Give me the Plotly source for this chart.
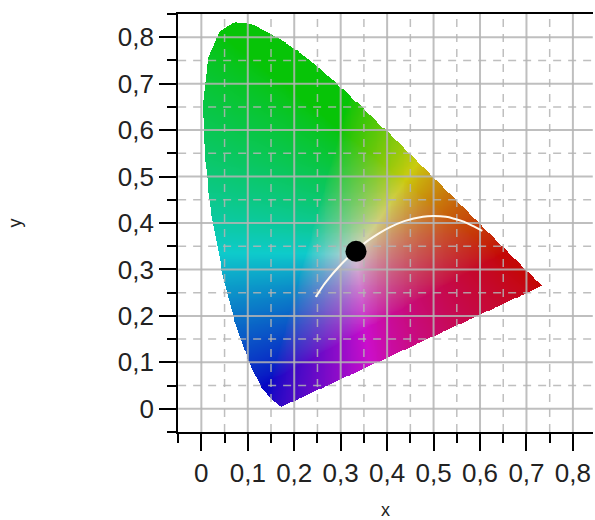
import numpy as np
import plotly.graph_objects as go

# ---------------- data ----------------
# CIE 1931 spectral locus (chromaticity x, y), 380..700 nm
LOCUS_X = [0.1741, 0.1740, 0.1738, 0.1736, 0.1733, 0.1730, 0.1726, 0.1721, 0.1714, 0.1703,
           0.1689, 0.1669, 0.1644, 0.1611, 0.1566, 0.1510, 0.1440, 0.1355, 0.1241, 0.1096,
           0.0913, 0.0687, 0.0454, 0.0235, 0.0082, 0.0039, 0.0139, 0.0389, 0.0743, 0.1142,
           0.1547, 0.1929, 0.2296, 0.2658, 0.3016, 0.3373, 0.3731, 0.4087, 0.4441, 0.4788,
           0.5125, 0.5448, 0.5752, 0.6029, 0.6270, 0.6482, 0.6658, 0.6801, 0.6915, 0.7006,
           0.7079, 0.7140, 0.7190, 0.7230, 0.7260, 0.7283, 0.7300, 0.7311, 0.7320, 0.7327,
           0.7334, 0.7347]
LOCUS_Y = [0.0050, 0.0050, 0.0049, 0.0049, 0.0048, 0.0048, 0.0048, 0.0048, 0.0051, 0.0058,
           0.0069, 0.0086, 0.0109, 0.0138, 0.0177, 0.0227, 0.0297, 0.0399, 0.0578, 0.0868,
           0.1327, 0.2007, 0.2950, 0.4127, 0.5384, 0.6548, 0.7502, 0.8120, 0.8338, 0.8262,
           0.8059, 0.7816, 0.7543, 0.7243, 0.6923, 0.6589, 0.6245, 0.5896, 0.5547, 0.5202,
           0.4866, 0.4544, 0.4242, 0.3965, 0.3725, 0.3514, 0.3340, 0.3197, 0.3083, 0.2993,
           0.2920, 0.2859, 0.2809, 0.2770, 0.2740, 0.2717, 0.2700, 0.2689, 0.2680, 0.2673,
           0.2666, 0.2653]

# Planckian (black body) locus, as drawn (white curve)
PLANCK_X = [0.246, 0.2501, 0.2565, 0.2637, 0.2720, 0.2807, 0.2869, 0.2952, 0.3064, 0.3135,
            0.3221, 0.3325, 0.3451, 0.3608, 0.3805, 0.4053, 0.4369, 0.4770, 0.5000, 0.5267,
            0.5450, 0.5650, 0.5857, 0.6050]
PLANCK_Y = [0.241, 0.2466, 0.2563, 0.2671, 0.2778, 0.2884, 0.2956, 0.3048, 0.3166, 0.3237,
            0.3318, 0.3411, 0.3516, 0.3636, 0.3768, 0.3907, 0.4041, 0.4137, 0.4150, 0.4133,
            0.4090, 0.4029, 0.3931, 0.3830]

# white point marker
POINT_X = [0.333]
POINT_Y = [0.339]

X_TICKS = [0, 0.1, 0.2, 0.3, 0.4, 0.5, 0.6, 0.7, 0.8]
X_LABELS = ["0", "0,1", "0,2", "0,3", "0,4", "0,5", "0,6", "0,7", "0,8"]
Y_TICKS = [0, 0.1, 0.2, 0.3, 0.4, 0.5, 0.6, 0.7, 0.8]
Y_LABELS = ["0", "0,1", "0,2", "0,3", "0,4", "0,5", "0,6", "0,7", "0,8"]
MINOR_STEP = 0.05

XR = [-0.05, 0.843]
YR = [-0.05, 0.85]

# ---------------- colour image of the gamut ----------------
STEP = 0.002
gx = np.arange(0.001, 0.745, STEP)
gy = np.arange(0.001, 0.845, STEP)
PX, PY = np.meshgrid(gx, gy)

vx = np.array(LOCUS_X)
vy = np.array(LOCUS_Y)
inside = np.zeros(PX.shape, dtype=bool)
j = len(vx) - 1
for i in range(len(vx)):
    cond = ((vy[i] > PY) != (vy[j] > PY)) & (
        PX < (vx[j] - vx[i]) * (PY - vy[i]) / (vy[j] - vy[i] + 1e-12) + vx[i])
    inside ^= cond
    j = i

X = PX / PY
Yc = np.ones_like(PX)
Z = (1 - PX - PY) / PY
# sRGB primaries, balanced to equal-energy white
R = (3.2406 * X - 1.5372 * Yc - 0.4986 * Z) / 1.2048
G = (-0.9689 * X + 1.8758 * Yc + 0.0415 * Z) / 0.9484
B = (0.0557 * X - 0.2040 * Yc + 1.0570 * Z) / 0.9087
rgb = np.clip(np.stack([R, G, B], axis=-1), 0, None)
mx = rgb.max(axis=-1, keepdims=True)
mx[mx == 0] = 1
rgb = rgb / mx
rgb = rgb ** 0.7
rgb = 0.9 * rgb + 0.1 * rgb.mean(axis=-1, keepdims=True)
rgb = np.round(np.clip(rgb, 0, 1) * 210).astype(int)
alpha = inside.astype(int)[..., None] * 255
img = np.concatenate([rgb, alpha], axis=-1)
img[~inside] = [255, 255, 255, 0]

# ---------------- grid drawn over the colour image ----------------
def grid_xy(vals, vertical):
    xs, ys = [], []
    for v in vals:
        if vertical:
            xs += [v, v, None]
            ys += [YR[0], YR[1], None]
        else:
            xs += [XR[0], XR[1], None]
            ys += [v, v, None]
    return xs, ys

x_minor = [t + MINOR_STEP for t in X_TICKS if XR[0] < t + MINOR_STEP < XR[1]]
y_minor = [t + MINOR_STEP for t in Y_TICKS if YR[0] < t + MINOR_STEP < YR[1] - 0.01]

mx_x, mx_y = grid_xy(X_TICKS, True)
my_x, my_y = grid_xy(Y_TICKS, False)
nx_x, nx_y = grid_xy(x_minor, True)
ny_x, ny_y = grid_xy(y_minor, False)

GRID = "rgba(180,180,180,0.85)"

fig = go.Figure()
fig.add_trace(go.Image(z=img.tolist(), colormodel="rgba256", x0=float(gx[0]), dx=STEP,
                       y0=float(gy[0]), dy=STEP, hoverinfo="skip"))
fig.add_trace(go.Scatter(x=nx_x + [None] + ny_x, y=nx_y + [None] + ny_y, mode="lines",
                         line=dict(color=GRID, width=1.5, dash="8px,7px"),
                         hoverinfo="skip", showlegend=False))
fig.add_trace(go.Scatter(x=mx_x + [None] + my_x, y=mx_y + [None] + my_y, mode="lines",
                         line=dict(color=GRID, width=2),
                         hoverinfo="skip", showlegend=False))
fig.add_trace(go.Scatter(x=PLANCK_X, y=PLANCK_Y, mode="lines",
                         line=dict(color="#fffaf0", width=2, shape="spline"),
                         showlegend=False, hoverinfo="skip"))
fig.add_trace(go.Scatter(x=POINT_X, y=POINT_Y, mode="markers",
                         marker=dict(color="black", size=21), showlegend=False))

tickfont = dict(family="Liberation Sans", size=26, color="#222")
minor = dict(tickmode="linear", tick0=0, dtick=MINOR_STEP, ticks="outside", ticklen=9,
             tickwidth=2, tickcolor="black", showgrid=False)

fig.update_layout(
    width=595, height=520,
    margin=dict(l=176, r=0, t=14, b=86),
    paper_bgcolor="white", plot_bgcolor="white",
    showlegend=False,
    xaxis=dict(
        range=XR, autorange=False, scaleanchor=False,
        tickmode="array", tickvals=X_TICKS, ticktext=X_LABELS, tickfont=tickfont,
        ticks="outside", ticklen=17, tickwidth=2, tickcolor="black",
        showline=True, linewidth=2, linecolor="black", mirror=True,
        showgrid=False, zeroline=False, minor=minor,
        title=dict(text="x", font=dict(family="Liberation Sans", size=18, color="#222"),
                   standoff=19),
    ),
    yaxis=dict(
        range=YR, autorange=False,
        tickmode="array", tickvals=Y_TICKS, ticktext=Y_LABELS, tickfont=tickfont,
        ticks="outside", ticklen=17, tickwidth=2, tickcolor="black",
        ticklabelstandoff=0,
        showline=True, linewidth=2, linecolor="black", mirror=False,
        showgrid=False, zeroline=False, minor=minor,
        title=dict(text="y", font=dict(family="Liberation Sans", size=18, color="#222"),
                   standoff=91),
    ),
)

fig.write_html(
    "out.html",
    config={"displayModeBar": False},
    post_script="document.body.style.margin='0px';"
                "document.documentElement.style.overflow='hidden';"
                "document.body.style.overflow='hidden';",
)
